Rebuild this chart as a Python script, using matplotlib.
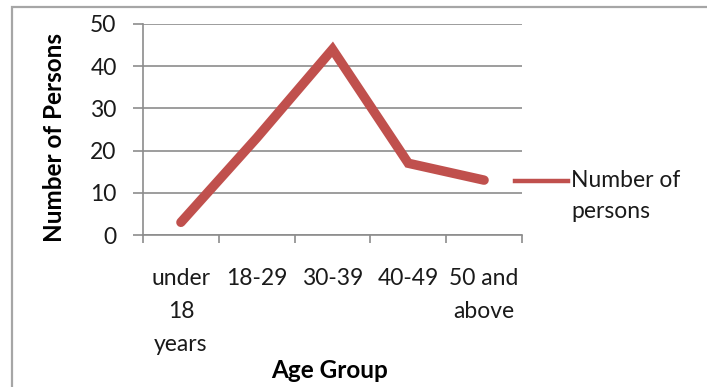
import matplotlib.pyplot as plt
from matplotlib.patches import Rectangle
from matplotlib.lines import Line2D
from matplotlib.legend_handler import HandlerLine2D

# persons surveyed by age group
age_groups = ['under\n18\nyears', '18-29', '30-39', '40-49', '50 and\nabove']
persons = [3, 23, 44, 17, 13]

plt.rcParams['font.family'] = ['Lato', 'DejaVu Sans']


class TopLineHandler(HandlerLine2D):
    # keep the legend line level with the first row of a wrapped label
    def create_artists(self, legend, orig_handle, xdescent, ydescent,
                       width, height, fontsize, trans):
        artists = super().create_artists(legend, orig_handle, xdescent,
                                         ydescent, width, height, fontsize,
                                         trans)
        for a in artists:
            a.set_ydata([y + 0.68 * fontsize for y in a.get_ydata()])
        return artists


fig = plt.figure(figsize=(7.07, 3.87), dpi=100)
ax = fig.add_axes([143 / 707, 1 - 235 / 387, 379 / 707, 211 / 387])

# outer chart border
fig.patches.append(Rectangle((12 / 707, -0.05), 1.1, 1.05 - 6.5 / 387,
                             transform=fig.transFigure, fill=False,
                             edgecolor='#a6a6a6', lw=1.6))

x = range(len(age_groups))
ax.plot(x, persons, color='#c0504d', lw=6.8, solid_capstyle='round',
        solid_joinstyle='miter')

ax.set_xlim(-0.5, len(age_groups) - 0.5)
ax.set_ylim(0, 50)
ax.set_yticks(range(0, 51, 10))
ax.yaxis.grid(True, color='#8c8c8c', lw=1.2)
ax.set_axisbelow(True)

ax.set_xticks([i - 0.5 for i in range(len(age_groups) + 1)])
ax.set_xticklabels([])
ax.set_xticks(list(x), minor=True)
ax.set_xticklabels(age_groups, minor=True, fontsize=16.5, linespacing=1.7,
                   va='top', ha='center', color='#1a1a1a')
ax.tick_params(axis='x', which='minor', length=0, pad=24)
ax.tick_params(axis='x', which='major', length=6, color='#8c8c8c', width=1.2)
ax.tick_params(axis='y', length=7, color='#8c8c8c', width=1.2, pad=12,
               labelsize=16.5, labelcolor='#1a1a1a')

for side in ['top', 'right']:
    ax.spines[side].set_visible(False)
for side in ['left', 'bottom']:
    ax.spines[side].set_color('#8c8c8c')
    ax.spines[side].set_linewidth(1.2)

fig.text(55 / 707, 1 - 138 / 387, 'Number of Persons', rotation=90,
         ha='center', va='center', fontsize=17.5, fontweight='bold')
fig.text(330 / 707, 1 - 371 / 387, 'Age Group', ha='center', va='center',
         fontsize=17.5, fontweight='bold')

handle = Line2D([], [], color='#c0504d', lw=3.2)
leg = ax.legend([handle], ['Number of\npersons'], loc='upper left',
                bbox_to_anchor=(515 / 707, 1 - 170 / 387),
                bbox_transform=fig.transFigure, frameon=False, fontsize=16.5,
                handlelength=2.3, handletextpad=0.15, borderaxespad=0,
                borderpad=0, handler_map={Line2D: TopLineHandler()},
                labelspacing=0)
leg.get_texts()[0].set_linespacing(1.6)
leg.get_texts()[0].set_color('#1a1a1a')

fig.savefig('out.png', dpi=100)
